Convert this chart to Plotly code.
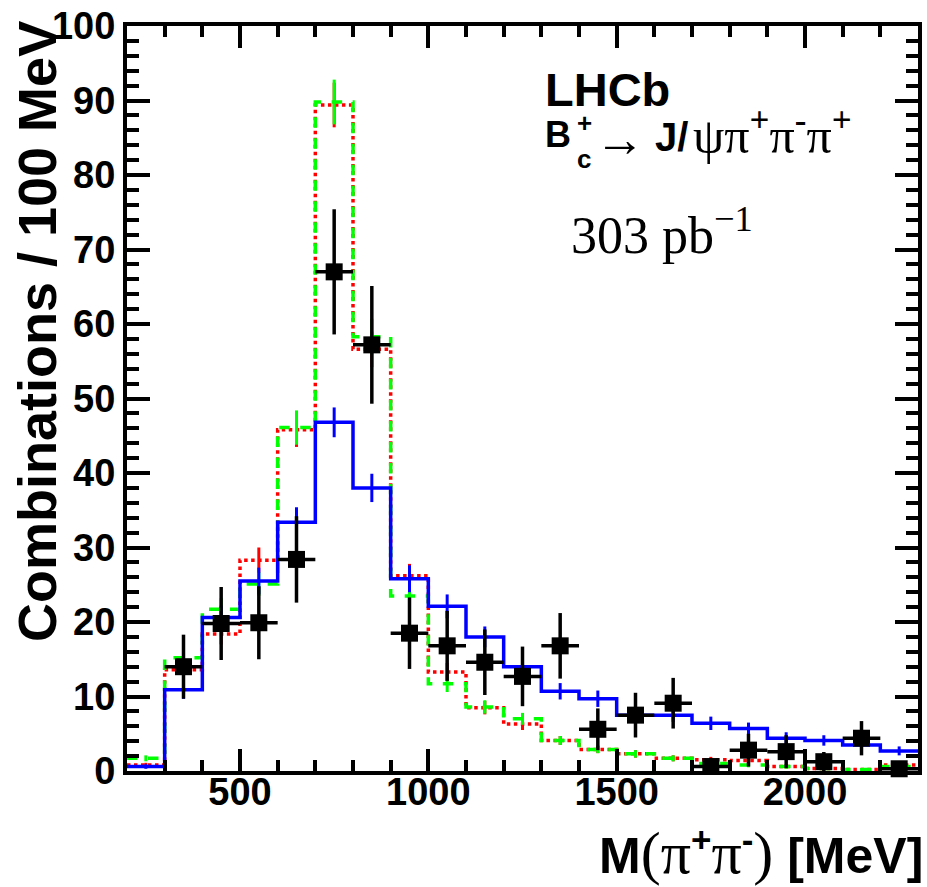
import plotly.graph_objects as go

# ---------------- data ----------------
bin_edges = [200, 300, 400, 500, 600, 700, 800, 900, 1000, 1100, 1200, 1300,
             1400, 1500, 1600, 1700, 1800, 1900, 2000, 2100, 2200, 2300]
bin_centers = [250, 350, 450, 550, 650, 750, 850, 950, 1050, 1150, 1250, 1350,
               1450, 1550, 1650, 1750, 1850, 1950, 2050, 2150, 2250]

blue_vals = [0.6, 10.9, 20.6, 25.5, 33.4, 46.8, 38.0, 25.8, 22.1, 18.0, 14.0,
             10.7, 9.7, 7.5, 7.5, 6.4, 5.7, 4.4, 4.1, 3.5, 2.7]
blue_err = [0.3, 1.2, 1.6, 1.8, 2.0, 2.0, 1.9, 1.8, 1.6, 1.4, 1.3, 1.1, 1.1,
            1.0, 0.9, 0.9, 0.8, 0.8, 0.7, 0.7, 0.6]

red_vals = [0.8, 13.6, 18.4, 28.3, 45.8, 89.4, 56.6, 26.2, 13.3, 8.5, 6.3,
            4.1, 2.9, 2.3, 1.7, 1.5, 1.4, 0.6, 0.35, 0.2, 0.8]
red_err = [0.3, 1.2, 1.4, 1.7, 2.3, 3.0, 2.4, 1.6, 1.2, 0.9, 0.8, 0.6, 0.5,
           0.5, 0.4, 0.4, 0.4, 0.3, 0.2, 0.2, 0.3]

green_vals = [1.7, 15.2, 21.7, 25.1, 46.1, 89.8, 58.3, 23.5, 11.7, 8.6, 7.0,
              4.1, 2.9, 2.3, 1.7, 1.0, 0.8, 0.6, 0.35, 0.2, 0.6]
green_err = [0.4, 1.2, 1.5, 1.6, 2.3, 3.0, 2.4, 1.5, 1.1, 0.9, 0.8, 0.6, 0.5,
             0.5, 0.4, 0.3, 0.3, 0.3, 0.2, 0.2, 0.3]

data_x = [350, 450, 550, 650, 750, 850, 950, 1050, 1150, 1250, 1350, 1450,
          1550, 1650, 1750, 1850, 1950, 2050, 2150, 2250]
data_y = [14.0, 19.8, 19.9, 28.4, 67.0, 57.2, 18.5, 16.8, 14.6, 12.7, 16.8,
          5.6, 7.5, 9.1, 0.6, 2.8, 2.6, 1.25, 4.4, 0.3]
data_err = [4.3, 4.9, 4.9, 5.8, 8.4, 7.9, 4.8, 4.7, 4.4, 4.0, 4.4, 2.8, 3.0,
            3.4, 1.0, 2.2, 2.2, 1.3, 2.3, 1.0]
bin_halfwidth = 50

x_tickvals = [500, 1000, 1500, 2000]
y_tickvals = [0, 10, 20, 30, 40, 50, 60, 70, 80, 90, 100]

# ---------------- layout geometry ----------------
W, H = 927, 887
L, R, T, B = 127, 5, 23, 116
pw, ph = W - L - R, H - T - B


def px(xp):
    return (xp - L) / pw


def py(yp):
    return (H - B - yp) / ph


fig = go.Figure()


def step(vals, color, dash, err):
    xs = bin_edges[:]
    ys = vals + [vals[-1]]
    fig.add_trace(go.Scatter(x=xs, y=ys, mode="lines", line_shape="hv",
                             line=dict(color=color, width=3.5, dash=dash),
                             hoverinfo="skip", showlegend=False))
    fig.add_trace(go.Scatter(x=bin_centers, y=vals, mode="markers",
                             marker=dict(size=1, color=color, opacity=0),
                             error_y=dict(type="data", array=err, color=color,
                                          thickness=3, width=0),
                             showlegend=False, hoverinfo="skip"))


step(red_vals, "#ff0000", "dot", red_err)
step(green_vals, "#00ff00", "dash", green_err)
step(blue_vals, "#0000ff", "solid", blue_err)

fig.add_trace(go.Scatter(
    x=data_x, y=data_y, mode="markers",
    marker=dict(symbol="square", size=17, color="black"),
    error_y=dict(type="data", array=data_err, color="black", thickness=3.5, width=0),
    error_x=dict(type="constant", value=bin_halfwidth, color="black", thickness=3.5, width=0),
    cliponaxis=False, showlegend=False))

tickfont = dict(family="Liberation Sans, Arial, sans-serif", size=38, color="black", weight="bold")

fig.update_xaxes(range=[200, 2300], showgrid=False, zeroline=False,
                 showline=True, linecolor="black", linewidth=4, mirror="allticks",
                 ticks="inside", ticklen=22, tickwidth=4, tickcolor="black",
                 tickvals=x_tickvals, ticktext=[str(v) for v in x_tickvals],
                 tickfont=tickfont, ticklabelstandoff=-16,
                 minor=dict(ticks="inside", ticklen=11, tickwidth=3.5, tickcolor="black",
                            dtick=100, tick0=0, showgrid=False))
fig.update_yaxes(range=[0, 100], showgrid=False, zeroline=False,
                 showline=True, linecolor="black", linewidth=4, mirror="allticks",
                 ticks="inside", ticklen=23, tickwidth=4, tickcolor="black",
                 tickvals=y_tickvals, ticktext=[str(v) for v in y_tickvals],
                 tickfont=tickfont, ticklabelstandoff=0,
                 minor=dict(ticks="inside", ticklen=12, tickwidth=3.5, tickcolor="black",
                            dtick=2, tick0=0, showgrid=False))

sans = "Liberation Sans, Arial, sans-serif"
serif = "Liberation Serif, Times New Roman, serif"
SER = "<span style='font-family:Liberation Serif;font-size:60px'>"

annos = [
    # y-axis title
    dict(x=px(36), y=py(16), text="<b>Combinations / 100 MeV</b>", textangle=-90,
         xanchor="center", yanchor="top", font=dict(family=sans, size=54, color="black")),
    # x-axis title
    dict(x=px(929), y=py(888), xanchor="right", yanchor="bottom",
         text="<b>M</b>" + SER + "(π</span><b><sup>+</sup></b>" + SER + "π</span><b><sup>-</sup></b>"
              + SER + ")</span><b> [MeV]</b>",
         font=dict(family=sans, size=50, color="black")),
    # LHCb
    dict(x=px(545), y=py(58), xanchor="left", yanchor="top", text="<b>LHCb</b>",
         font=dict(family=sans, size=47, color="black")),
    # B_c^+
    dict(x=px(545), y=py(109), xanchor="left", yanchor="top", text="<b>B</b>",
         font=dict(family=sans, size=36, color="black")),
    dict(x=px(577), y=py(120), xanchor="left", yanchor="middle", text="<b>+</b>",
         font=dict(family=sans, size=26, color="black")),
    dict(x=px(577), y=py(157), xanchor="left", yanchor="middle", text="<b>c</b>",
         font=dict(family=sans, size=26, color="black")),
    dict(x=px(595), y=py(136), xanchor="left", yanchor="middle", text="→",
         font=dict(family=serif, size=50, color="black")),
    dict(x=px(656), y=py(110), xanchor="left", yanchor="top", text="<b>J/</b>",
         font=dict(family=sans, size=40, color="black")),
    dict(x=px(694), y=py(96), xanchor="left", yanchor="top",
         text="ψπ<b><sup>+</sup></b>π<b><sup>-</sup></b>π<b><sup>+</sup></b>",
         font=dict(family=serif, size=50, color="black")),
    # luminosity
    dict(x=px(571), y=py(195), xanchor="left", yanchor="top", text="303 pb<sup>−1</sup>",
         font=dict(family=serif, size=52, color="black")),
]
for a in annos:
    a.update(xref="paper", yref="paper", showarrow=False)
    fig.add_annotation(**a)

fig.update_layout(width=W, height=H, margin=dict(l=L, r=R, t=T, b=B),
                  paper_bgcolor="white", plot_bgcolor="white", showlegend=False)

fig.write_html("out.html")
